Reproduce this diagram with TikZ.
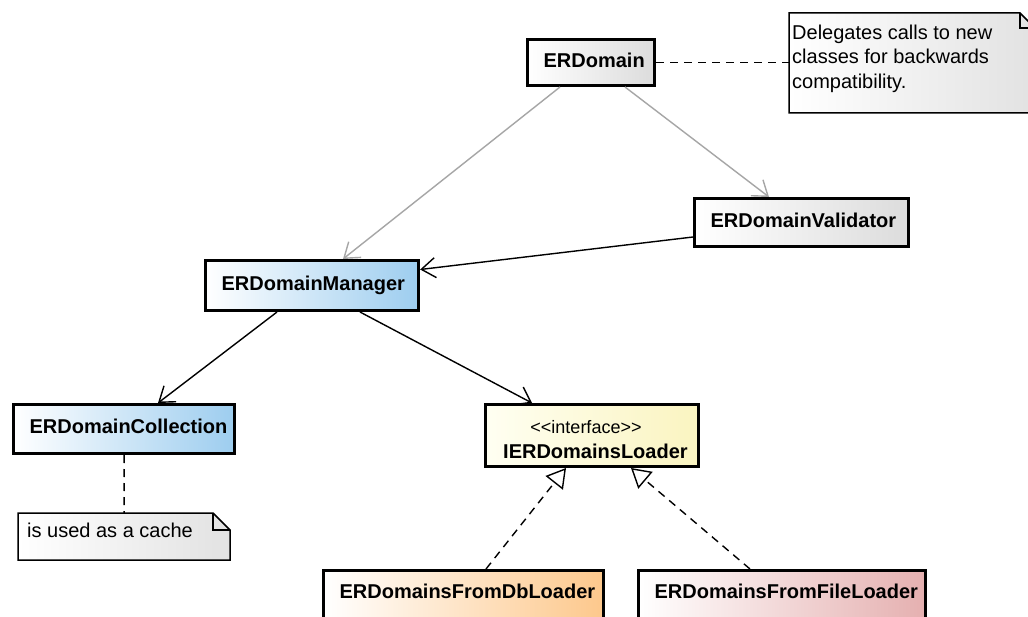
\documentclass[tikz,border=0pt]{standalone}
\usepackage{fontspec}
\setmainfont{Liberation Sans}
\usetikzlibrary{arrows.meta}
\hyphenpenalty=10000
\exhyphenpenalty=10000
\hfuzz=200pt
\hbadness=10000

\definecolor{boxgray}{HTML}{DCDCDC}
\definecolor{boxblue}{HTML}{9DCDEF}
\definecolor{boxyellowl}{HTML}{FFFFF2}
\definecolor{boxyellow}{HTML}{FAF4C0}
\definecolor{boxorange}{HTML}{FDC88C}
\definecolor{boxpink}{HTML}{E5B0B0}
\definecolor{notegray}{HTML}{E2E2E2}
\definecolor{linkgray}{HTML}{A6A6A6}

\begin{document}
\begin{tikzpicture}[x=1pt, y=-1pt,
  font=\fontsize{20}{24.5}\selectfont,
  cls/.style={draw, line width=2.8pt, anchor=north west,
    inner xsep=16.2pt, inner ysep=0pt, text height=14.3pt, text depth=5pt,
    align=left, font=\fontsize{20}{24.5}\selectfont\bfseries},
  clsopen/.style={cls, inner ysep=13.5pt, text depth=30pt},
  notebox/.style={anchor=north west, inner sep=0pt, outer sep=0pt},
  notebody/.style={draw, line width=1.5pt, line join=miter, left color=white, right color=notegray},
  notefold/.style={draw, line width=1.5pt},
  notelink/.style={line width=1.5pt, dash pattern=on 8pt off 6pt},
  assoc/.style={line width=1.4pt, -{Straight Barb[length=14pt,width=20pt]}},
  dep/.style={assoc, draw=linkgray},
  realize/.style={line width=1.4pt, dash pattern=on 8pt off 6pt,
    -{Triangle[open,length=19pt,width=22pt,fill=white]}}]

\useasboundingbox (0,0) rectangle (1028,617);
\clip (0,0) rectangle (1028,617);
\fill[white] (0,0) rectangle (1028,617);

% classes
\node[cls, minimum width=127.2pt, minimum height=46.2pt, text width=95pt,
  left color=white, right color=boxgray] (erd) at (526,38) {ERDomain};
\node[cls, minimum width=214.2pt, minimum height=48.2pt, text width=182pt,
  left color=white, right color=boxgray] (val) at (693,197) {ERDomainValidator};
\node[cls, minimum width=213.2pt, minimum height=50.2pt, text width=181pt,
  left color=white, right color=boxblue] (mgr) at (204,259) {ERDomainManager};
\node[cls, minimum width=221.2pt, minimum height=49.2pt, text width=189pt,
  left color=white, right color=boxblue] (col) at (12,403) {ERDomainCollection};
\node[cls, minimum width=213.2pt, minimum height=62.2pt, text width=181pt,
  left color=boxyellowl, right color=boxyellow] (ifc) at (484,403) {};
\node[inner sep=0pt, font=\fontsize{18}{20}\selectfont] (ifcst) at (586,427)
  {\mbox{<}\mbox{<}interface\mbox{>}\mbox{>}};
\node[inner sep=0pt, anchor=base west, font=\fontsize{20}{24.5}\selectfont\bfseries]
  (ifcname) at (503,458) {IERDomainsLoader};
\node[clsopen, minimum width=280.2pt, text width=248pt,
  left color=white, right color=boxorange] (db) at (322,569) {ERDomainsFromDbLoader};
\node[clsopen, minimum width=287.2pt, text width=255pt,
  left color=white, right color=boxpink] (file) at (637,569) {ERDomainsFromFileLoader};

% notes
\node[notebox, minimum width=246pt, minimum height=100pt] (note1) at (789,13) {};
\path[notebody] (note1.north west) -- ([xshift=-15pt]note1.north east)
  -- ([yshift=-15pt]note1.north east) -- (note1.south east) -- (note1.south west) -- cycle;
\path[notefold] ([xshift=-15pt]note1.north east) |- ([yshift=-15pt]note1.north east);
\node[anchor=north west, inner sep=0pt, align=left, font=\fontsize{20}{24.7}\selectfont]
  (note1t) at (792,24.5) {Delegates calls to new\\classes for backwards\\compatibility.};

\node[notebox, minimum width=212pt, minimum height=47pt] (note2) at (18,513) {};
\path[notebody] (note2.north west) -- ([xshift=-17pt]note2.north east)
  -- ([yshift=-17pt]note2.north east) -- (note2.south east) -- (note2.south west) -- cycle;
\path[notefold] ([xshift=-17pt]note2.north east) |- ([yshift=-17pt]note2.north east);
\node[anchor=base west, inner sep=0pt] (note2t) at (27,537) {is used as a cache};

% note links
\draw[notelink] (erd.east) -- (erd.east -| note1.west);
\draw[notelink] (col.south) -- (note2.north);

% dependencies of ERDomain
\draw[dep] ([xshift=34pt]erd.south west) -- ([xshift=139pt]mgr.north west);
\draw[dep] ([xshift=99pt]erd.south west) -- ([xshift=76pt]val.north west);

% associations
\draw[assoc] ([yshift=-14.5pt]val.west) -- ([yshift=16pt]mgr.east);
\draw[assoc] ([xshift=73pt]mgr.south west) -- ([xshift=146pt]col.north west);
\draw[assoc] ([xshift=156pt]mgr.south west) -- ([xshift=48pt]ifc.north west);

% realizations
\draw[realize] ([xshift=164pt]db.north west) -- ([xshift=82pt]ifc.south west);
\draw[realize] ([xshift=113pt]file.north west) -- ([xshift=147pt]ifc.south west);
\end{tikzpicture}
\end{document}
